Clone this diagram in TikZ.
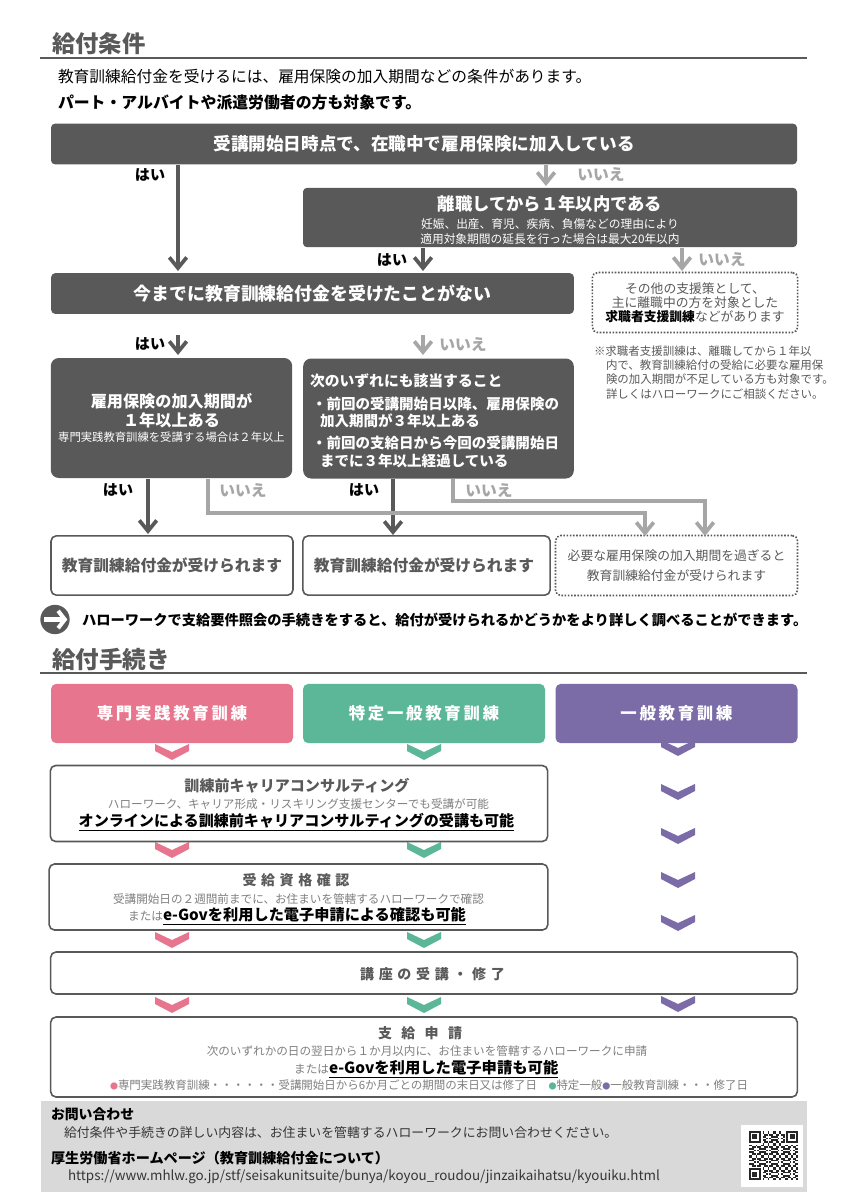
\documentclass[tikz,border=0pt]{standalone}
\usepackage{fontspec}
\setmainfont{Noto Sans CJK JP}
\usetikzlibrary{arrows.meta}
\definecolor{darkbox}{HTML}{595959}
\definecolor{nogray}{HTML}{A6A6A6}
\definecolor{subgray}{HTML}{7F7F7F}
\definecolor{cpink}{HTML}{E8758E}
\definecolor{cgreen}{HTML}{5BB797}
\definecolor{cpurple}{HTML}{7B6CA8}
\definecolor{footgray}{HTML}{D9D9D9}
\newcommand{\fsz}[2]{\fontsize{#1}{#2}\selectfont}
\newcommand{\smalldot}[1]{{\color{#1}\fontsize{6}{6}\selectfont ●}}
\tikzset{chev/.pic={\path[pic actions] (-17,1) -- (0,9) -- (17,1) -- (17,8) -- (0,17) -- (-17,8) -- cycle;}}
\begin{document}
\begin{tikzpicture}
[x=0.75pt,y=-0.75pt,
 every node/.style={inner sep=0mm,outer sep=0mm,align=center},
 head/.style={text=darkbox,font=\fsz{17.5}{20}\bfseries},
 body/.style={text=black,font=\fsz{11.8}{14}},
 yes/.style={text=black,font=\fsz{11.3}{12}\bfseries},
 nope/.style={text=nogray,font=\fsz{11.8}{12}\bfseries},
 dark/.style={rectangle,rounded corners=3pt,fill=darkbox,text=white},
 res/.style={rectangle,rounded corners=4pt,draw=darkbox,line width=1.2pt,fill=white},
 dot/.style={rectangle,rounded corners=4pt,draw=darkbox,line width=1.2pt,dash pattern=on 1.2pt off 1.2pt,fill=white},
 tab/.style={rectangle,rounded corners=4pt,text=white,minimum width=181.5pt,minimum height=44.5pt,font=\fsz{12.3}{16}\bfseries},
 yarrow/.style={darkbox,line width=3.2pt,-{Straight Barb[length=8pt,width=13pt,line width=2.8pt]}},
 narrow/.style={nogray,line width=3.2pt,-{Straight Barb[length=8pt,width=13pt,line width=2.8pt]}},
 note/.style={text=darkbox,font=\fsz{8.6}{10.6},align=left,anchor=north west}]
\useasboundingbox (0,0) rectangle (848,1200);
\fill[white] (0,0) rectangle (848,1200);

% conditions
\node[head,anchor=west] (h1) at (52,44) {給付条件};
\draw[darkbox,line width=1.3pt] (40,58) -- (807,58);
\node[body,anchor=west] (t1) at (58,77) {教育訓練給付金を受けるには、雇用保険の加入期間などの条件があります。};
\node[body,anchor=west,font=\fsz{11.9}{14}\bfseries] (t2) at (58,102) {パート・アルバイトや派遣労働者の方も対象です。};

\node[dark,minimum width=559.5pt,minimum height=30.5pt,font=\fsz{13.2}{15}\bfseries] (q1) at (424,144) {受講開始日時点で、在職中で雇用保険に加入している};
\node[dark,minimum width=370.5pt,minimum height=44.5pt] (q2) at (550,217.5) {};
\node[text=white,font=\fsz{13}{15}\bfseries] (q2a) at (550,204) {離職してから１年以内である};
\node[text=white,font=\fsz{8.8}{11.2}] (q2b) at (550,231.5) {妊娠、出産、育児、疾病、負傷などの理由により\\適用対象期間の延長を行った場合は最大20年以内};
\node[dark,minimum width=392pt,minimum height=30.5pt,font=\fsz{13.4}{15}\bfseries] (q3) at (312.5,293.5) {今までに教育訓練給付金を受けたことがない};
\node[dot,minimum width=154pt,minimum height=45pt] (c1) at (695,302.5) {};
\node[text=darkbox,font=\fsz{9.6}{10.6}] (c1t) at (695,302.5) {その他の支援策として、\\主に離職中の方を対象とした\\{\bfseries\color{black}求職者支援訓練}などがあります};
\node[note] (n1) at (594,346) {※求職者支援訓練は、離職してから１年以\\\hspace*{9pt}内で、教育訓練給付の受給に必要な雇用保\\\hspace*{9pt}険の加入期間が不足している方も対象です。\\\hspace*{9pt}詳しくはハローワークにご相談ください。};
\node[dark,rounded corners=6pt,minimum width=181pt,minimum height=90pt] (q4) at (171.5,418) {};
\node[text=white,font=\fsz{12.1}{14.2}\bfseries] (q4a) at (171.5,410.5) {雇用保険の加入期間が\\１年以上ある};
\node[text=white,font=\fsz{8.5}{10}] (q4b) at (171.5,437) {専門実践教育訓練を受講する場合は２年以上};
\node[dark,rounded corners=6pt,minimum width=203pt,minimum height=90pt] (q5) at (438.5,418.5) {};
\node[text=white,anchor=west,font=\fsz{11.1}{13}\bfseries] (q5a) at (310,381) {次のいずれにも該当すること};
\node[text=white,anchor=west,align=left,font=\fsz{10.9}{13}\bfseries] (q5b) at (312,412.5) {・前回の受講開始日以降、雇用保険の\\\hspace*{6pt}加入期間が３年以上ある};
\node[text=white,anchor=west,align=left,font=\fsz{10.9}{13}\bfseries] (q5c) at (312,452) {・前回の支給日から今回の受講開始日\\\hspace*{6pt}までに３年以上経過している};

\coordinate (a1) at (178,165);  \coordinate (a1e) at (178,271);
\coordinate (a2) at (546,165);  \coordinate (a2e) at (546,186);
\coordinate (a3) at (423,248);  \coordinate (a3e) at (423,271);
\coordinate (a4) at (682,248);  \coordinate (a4e) at (682,271);
\coordinate (a5) at (178,335);  \coordinate (a5e) at (178,355);
\coordinate (a6) at (423,335);  \coordinate (a6e) at (423,355);
\coordinate (a7) at (148,479);  \coordinate (a7e) at (148,534);
\coordinate (a8) at (393,479);  \coordinate (a8e) at (393,535);
\coordinate (a9) at (208,479);  \coordinate (a9m) at (208,513);
\coordinate (a9n) at (645,513); \coordinate (a9e) at (645,536);
\coordinate (a10) at (453,479); \coordinate (a10m) at (453,501);
\coordinate (a10n) at (705,501);\coordinate (a10e) at (705,536);

\node[res,minimum width=181.5pt,minimum height=44.5pt,text=darkbox,font=\fsz{11.8}{14}\bfseries] (r1) at (172,565.5) {教育訓練給付金が受けられます};
\node[res,minimum width=185.5pt,minimum height=44.5pt] (r2) at (426.5,565.5) {};
\node[text=darkbox,font=\fsz{11.8}{14}\bfseries] (r2t) at (424,565.5) {教育訓練給付金が受けられます};
\node[dot,minimum width=181.5pt,minimum height=45pt] (r3) at (676.5,565.5) {};
\node[text=darkbox,font=\fsz{9.6}{14.5}] (r3t) at (676.5,565.5) {必要な雇用保険の加入期間を過ぎると\\教育訓練給付金が受けられます};

\path[yarrow] (a1) edge (a1e);
\path[narrow] (a2) edge (a2e);
\path[yarrow] (a3) edge (a3e);
\path[narrow] (a4) edge (a4e);
\path[yarrow] (a5) edge (a5e);
\path[narrow] (a6) edge (a6e);
\path[yarrow] (a7) edge (a7e);
\path[yarrow] (a8) edge (a8e);
\draw[narrow] (a9) -- (a9m) -- (a9n) -- (a9e);
\draw[narrow] (a10) -- (a10m) -- (a10n) -- (a10e);

\node[yes] (y1) at (150,175) {はい};
\node[nope] (n2) at (601,175) {いいえ};
\node[yes] (y2) at (392,260) {はい};
\node[nope] (n3) at (722,260) {いいえ};
\node[yes] (y3) at (150,344) {はい};
\node[nope] (n4) at (463,345) {いいえ};
\node[yes] (y4) at (118,490) {はい};
\node[nope] (n5) at (243,491) {いいえ};
\node[yes] (y5) at (364,490) {はい};
\node[nope] (n6) at (489,491) {いいえ};

\node[circle,fill=darkbox,minimum size=22pt] (go) at (55,619.5) {};
\draw[white,line width=3.4pt,-{Straight Barb[length=5pt,width=13pt,line width=3pt]}] (go.west) ++(4,0) -- ++(23,0);
\node[anchor=west,text=black,font=\fsz{10.7}{13}\bfseries] (gotxt) at (82,620) {ハローワークで支給要件照会の手続きをすると、給付が受けられるかどうかをより詳しく調べることができます。};

% procedure
\node[head,anchor=west,font=\fsz{17.7}{20}\bfseries] (h2) at (52,659) {給付手続き};
\draw[darkbox,line width=1.3pt] (40,673) -- (807,673);

\pic[fill=cpink] at (172,743) {chev};
\pic[fill=cgreen] at (424,743) {chev};
\pic[fill=cpurple] at (678,739) {chev};
\pic[fill=cpurple] at (678,783) {chev};
\pic[fill=cpurple] at (678,827) {chev};
\pic[fill=cpurple] at (678,871) {chev};
\pic[fill=cpurple] at (678,914) {chev};
\pic[fill=cpink] at (172,841) {chev};
\pic[fill=cgreen] at (424,841) {chev};
\pic[fill=cpink] at (172,931) {chev};
\pic[fill=cgreen] at (424,931) {chev};
\pic[fill=cpink] at (172,996) {chev};
\pic[fill=cgreen] at (424,996) {chev};
\pic[fill=cpurple] at (678,995) {chev};

\node[tab,fill=cpink] (t3) at (172,713.5) {専\,門\,実\,践\,教\,育\,訓\,練};
\node[tab,fill=cgreen] (t4) at (424,713.5) {特\,定\,一\,般\,教\,育\,訓\,練};
\node[tab,fill=cpurple] (t5) at (676.5,713.5) {一\,般\,教\,育\,訓\,練};

\node[res,minimum width=373pt,minimum height=57pt] (s1) at (299,803.5) {};
\node[text=darkbox,font=\fsz{11.3}{14}\bfseries] (s1a) at (297,786) {訓練前キャリアコンサルティング};
\node[text=subgray,font=\fsz{8.7}{11}] (s1b) at (298.5,804) {ハローワーク、キャリア形成・リスキリング支援センターでも受講が可能};
\node[text=black,font=\fsz{11.3}{14}\bfseries] (s1c) at (296.5,822) {\underline{オンラインによる訓練前キャリアコンサルティングの受講も可能}};

\node[res,minimum width=374pt,minimum height=49.5pt] (s2) at (298.5,897) {};
\node[text=darkbox,font=\fsz{10.5}{14}\bfseries] (s2a) at (296,880) {受\hspace{3.4pt}給\hspace{3.4pt}資\hspace{3.4pt}格\hspace{3.4pt}確\hspace{3.4pt}認};
\node[text=subgray,font=\fsz{8.7}{11}] (s2b) at (298.5,899) {受講開始日の２週間前までに、お住まいを管轄するハローワークで確認};
\node[text=subgray,font=\fsz{8.7}{11},anchor=east] (s2c) at (163,916) {または};
\node[text=black,anchor=west,font=\fsz{11.4}{14}\bfseries] (s2d) at (163,916) {\underline{e-Govを利用した電子申請による確認も可能}};

\node[res,minimum width=560pt,minimum height=31.5pt] (s3) at (424,973) {};
\node[text=darkbox,font=\fsz{10.5}{14}\bfseries] (s3a) at (432.5,974) {講\hspace{3.5pt}座\hspace{3.5pt}の\hspace{3.5pt}受\hspace{3.5pt}講\hspace{3.5pt}・\hspace{3.5pt}修\hspace{3.5pt}了};

\node[res,minimum width=560pt,minimum height=60pt] (s4) at (424,1057) {};
\node[text=darkbox,font=\fsz{10.5}{14}\bfseries] (s4a) at (420,1033) {支\hspace{7pt}給\hspace{7pt}申\hspace{7pt}請};
\node[text=subgray,font=\fsz{8.7}{11}] (s4b) at (427,1051) {次のいずれかの日の翌日から１か月以内に、お住まいを管轄するハローワークに申請};
\node[text=subgray,font=\fsz{8.7}{11},anchor=east] (s4c) at (329,1069) {または};
\node[text=black,anchor=west,font=\fsz{11.5}{14}\bfseries] (s4d) at (329,1069) {\underline{e-Govを利用した電子申請も可能}};
\node[text=subgray,font=\fsz{8.6}{11}] (s4e) at (429,1085) {\smalldot{cpink}専門実践教育訓練・・・・・・受講開始日から6か月ごとの期間の末日又は修了日\quad\smalldot{cgreen}特定一般\smalldot{cpurple}一般教育訓練・・・修了日};

% footer
\node[fill=footgray,minimum width=575pt,minimum height=68.25pt] (foot) at (424,1146.5) {};
\node[anchor=west,text=black,font=\fsz{10.4}{13}\bfseries] (f1) at (51,1114) {お問い合わせ};
\node[anchor=west,text=darkbox!60!black,font=\fsz{9.65}{13}] (f2) at (64,1133) {給付条件や手続きの詳しい内容は、お住まいを管轄するハローワークにお問い合わせください。};
\node[anchor=west,text=black,font=\fsz{10.6}{13}\bfseries] (f3) at (51,1158) {厚生労働省ホームページ（教育訓練給付金について）};
\node[anchor=west,text=darkbox!60!black,font=\fsz{10.05}{13}] (f4) at (68,1177) {https://www.mhlw.go.jp/stf/seisakunitsuite/bunya/koyou\_roudou/jinzaikaihatsu/kyouiku.html};

% qr code, modules only approximate
\node[fill=white,minimum size=46.5pt] (qr) at (772,1155.5) {};
\begin{scope}[shift={(749,1131)},x=1.27pt,y=-1.27pt]
\foreach \i in {0,...,28}
  \foreach \j in {0,...,28}
    {\pgfmathtruncatemacro\qrv{mod(\i*\i*3+\j*\j*5+\i*\j*7+\i*11+\j*2,7)}
     \ifnum\qrv<3 \fill[black!85] (\i,\j) rectangle ++(1,1); \fi}
\fill[white] (0,0) rectangle (8,8);
\fill[white] (21,0) rectangle (29,8);
\fill[white] (0,21) rectangle (8,29);
\fill[black!85] (0,0) rectangle (7,7);
\fill[white] (1,1) rectangle (6,6);
\fill[black!85] (2,2) rectangle (5,5);
\fill[black!85] (22,0) rectangle (29,7);
\fill[white] (23,1) rectangle (28,6);
\fill[black!85] (24,2) rectangle (27,5);
\fill[black!85] (0,22) rectangle (7,29);
\fill[white] (1,23) rectangle (6,28);
\fill[black!85] (2,24) rectangle (5,27);
\end{scope}
\end{tikzpicture}
\end{document}
